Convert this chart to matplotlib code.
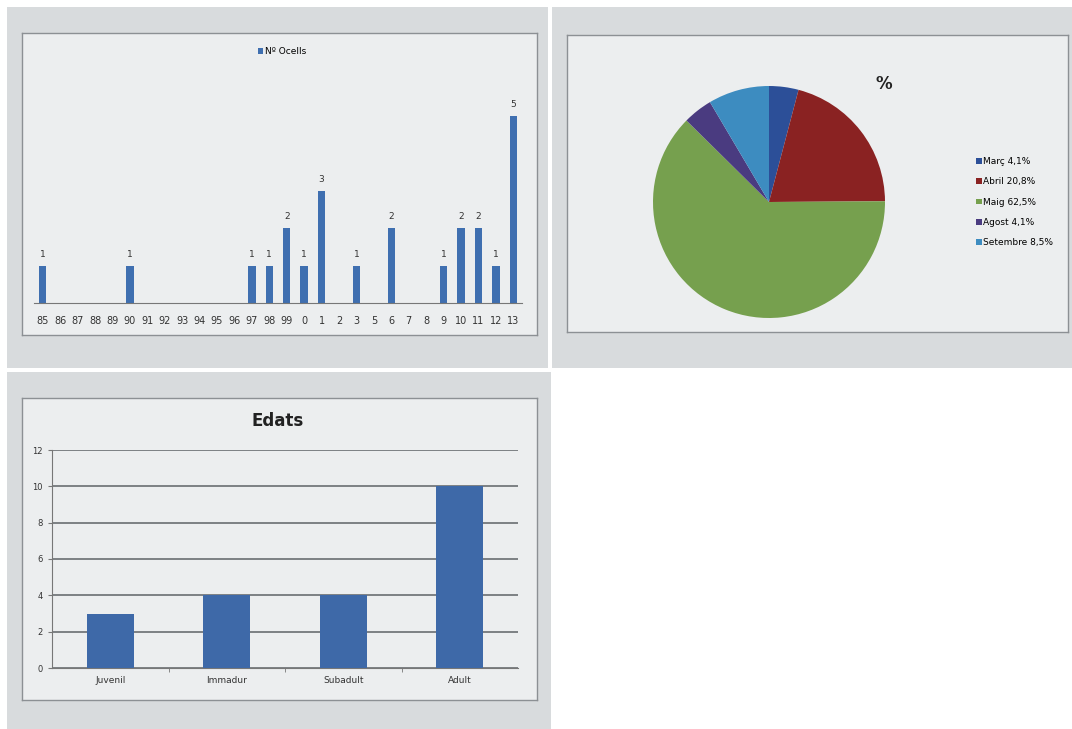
import matplotlib.pyplot as plt
from matplotlib.patches import Patch

W, H = 1072, 729

# --- data ---
years = ['85', '86', '87', '88', '89', '90', '91', '92', '93', '94', '95', '96', '97', '98', '99',
         '0', '1', '2', '3', '5', '6', '7', '8', '9', '10', '11', '12', '13']
ocells = [1, 0, 0, 0, 0, 1, 0, 0, 0, 0, 0, 0, 1, 1, 2,
          1, 3, 0, 1, 0, 2, 0, 0, 1, 2, 2, 1, 5]

months = ['Març', 'Abril', 'Maig', 'Agost', 'Setembre']
month_pct = [4.1, 20.8, 62.5, 4.1, 8.5]

ages = ['Juvenil', 'Immadur', 'Subadult', 'Adult']
age_counts = [3, 4, 4, 10]


def px(x0, y0, x1, y1):
    # pixel box -> figure fraction rect
    return [x0 / W, 1 - y1 / H, (x1 - x0) / W, (y1 - y0) / H]


fig = plt.figure(figsize=(W / 100, H / 100), dpi=100)
fig.patch.set_facecolor('white')

photo = '#d8dbdd'
paper = '#eceeef'
frame = '#8c9094'


def backdrop(outer, inner):
    a = fig.add_axes(px(*outer), zorder=0)
    a.set_facecolor(photo)
    a.set_xticks([]); a.set_yticks([])
    for s in a.spines.values():
        s.set_visible(False)
    b = fig.add_axes(px(*inner), zorder=1)
    b.set_facecolor(paper)
    b.set_xticks([]); b.set_yticks([])
    for s in b.spines.values():
        s.set_color(frame)
        s.set_linewidth(1)


backdrop((7, 7, 548, 368), (22, 33, 537, 335))
backdrop((552, 7, 1072, 368), (567, 35, 1068, 332))
backdrop((7, 372, 551, 729), (22, 398, 537, 700))

# --- Nº Ocells per year ---
ax1 = fig.add_axes(px(34, 41, 522, 303), zorder=2)
ax1.patch.set_alpha(0)
xs = list(range(len(years)))
bars = ax1.bar(xs, ocells, width=0.42, color='#3f6fb0', label='Nº Ocells')
for x, v in zip(xs, ocells):
    if v:
        ax1.text(x, v + 0.18, str(v), ha='center', va='bottom', fontsize=6.5, color='#333333')
ax1.set_xlim(-0.5, len(years) - 0.5)
ax1.set_ylim(0, 7)
ax1.set_xticks(xs)
ax1.set_xticklabels(years, fontsize=7, color='#333333')
ax1.tick_params(axis='x', length=0, pad=9)
ax1.set_yticks([])
for s in ['top', 'right', 'left']:
    ax1.spines[s].set_visible(False)
ax1.spines['bottom'].set_color('#777777')
ax1.legend(loc='center', bbox_to_anchor=(282 / W, 1 - 52 / H), bbox_transform=fig.transFigure,
           fontsize=6.5, frameon=False, handlelength=0.6, handleheight=0.6, handletextpad=0.2)

# --- % per month ---
ax2 = fig.add_axes(px(653, 86, 885, 318), zorder=2)
pie_colors = ['#2c4f98', '#8a2222', '#76a04e', '#4a3b80', '#3d8cc0']
wedges, _ = ax2.pie(month_pct, colors=pie_colors, startangle=90, counterclock=False, radius=1)
ax2.set_xlim(-1, 1); ax2.set_ylim(-1, 1)
fig.text(884 / W, 1 - 84 / H, '%', ha='center', va='center', fontsize=12, fontweight='bold', color='#222222')
labels = ['%s %s%%' % (m, ('%.1f' % p).replace('.', ',')) for m, p in zip(months, month_pct)]
handles = [Patch(facecolor=c) for c in pie_colors]
fig.legend(handles, labels, loc='upper left', bbox_to_anchor=(968 / W, 1 - 149 / H), fontsize=6.5,
           frameon=False, handlelength=0.6, handleheight=0.6, handletextpad=0.2, labelspacing=1.25)

# --- Edats ---
ax3 = fig.add_axes(px(52, 450, 518, 668), zorder=2)
ax3.patch.set_alpha(0)
ax3.bar(range(len(ages)), age_counts, width=0.4, color='#3e69a8', zorder=3)
ax3.set_xlim(-0.5, len(ages) - 0.5)
ax3.set_ylim(0, 12)
ax3.set_yticks(range(0, 13, 2))
ax3.set_xticks(range(len(ages)))
ax3.set_xticklabels(ages, fontsize=6.5, color='#333333')
ax3.set_xticks([0.5, 1.5, 2.5], minor=True)
ax3.tick_params(axis='x', which='major', length=0, pad=6)
ax3.tick_params(axis='x', which='minor', length=3, color='#777777')
ax3.tick_params(axis='y', labelsize=6, length=3, color='#777777', labelcolor='#333333')
ax3.grid(axis='y', color='#5f6366', linewidth=1.1, zorder=0)
for s in ['top', 'right']:
    ax3.spines[s].set_visible(False)
ax3.spines['left'].set_color('#777777')
ax3.spines['bottom'].set_color('#777777')
fig.text(278 / W, 1 - 421 / H, 'Edats', ha='center', va='center', fontsize=12, fontweight='bold', color='#222222')

fig.savefig('out.png', dpi=100)
